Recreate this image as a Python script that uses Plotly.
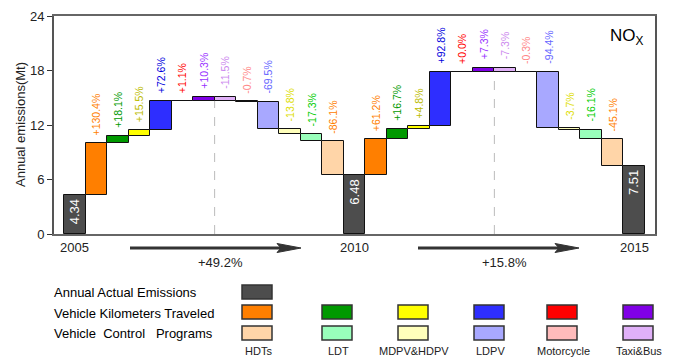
import plotly.graph_objects as go

# ---------------- data ----------------
categories = ["HDTs", "LDT", "MDPV&HDPV", "LDPV", "Motorcycle", "Taxi&Bus"]
years = ["2005", "2010", "2015"]
actual = [4.34, 6.48, 7.51]
# percentage contributions (relative to the start-year emissions), per category
vkt_pct_0510 = [130.4, 18.1, 15.5, 72.6, 1.1, 10.3]
ctrl_pct_0510 = [-86.1, -17.3, -13.8, -69.5, -0.7, -11.5]
vkt_pct_1015 = [61.2, 16.7, 4.8, 92.8, 0.0, 7.3]
ctrl_pct_1015 = [-45.1, -16.1, -3.7, -94.4, -0.3, -7.3]
period_change = ["+49.2%", "+15.8%"]
y_ticks = [0, 6, 12, 18, 24]
legend_rows = ["Annual Actual Emissions", "Vehicle Kilometers Traveled",
               "Vehicle\u00a0 Control\u00a0\u00a0 Programs"]

# ---------------- styles ----------------
actual_color = "#4D4D4D"
vkt_colors = ["#FF7F00", "#009900", "#FFFF00", "#2E2EFF", "#FF0000", "#8000E6"]
ctrl_colors = ["#FFD5A8", "#99FFBB", "#FFFFBB", "#A8A8FF", "#FFBBBB", "#E0B0F8"]
vkt_text = ["#FF8000", "#009900", "#BBBB00", "#0000DD", "#FF0000", "#9933FF"]
ctrl_text = ["#FF8000", "#00CC00", "#DDDD00", "#6666FF", "#FF8888", "#CC88EE"]
FONT = "Liberation Sans, Arial, sans-serif"

W, H = 674, 358
L, R, T, B = 54, 19, 16, 124
PW, PH = W - L - R, H - T - B


def pxx(x):
    return (x - L) / PW


def pyy(y):
    return (T + PH - y) / PH


# ---------------- build waterfall ----------------
xs, bases, heights, colors = [], [], [], []
annotations = []
shapes = []
idx = 0


def add_actual(i_year):
    global idx
    xs.append(idx); bases.append(0); heights.append(actual[i_year]); colors.append(actual_color)
    annotations.append(dict(x=idx, y=actual[i_year], xref="x", yref="y", yshift=-17,
                            text=f"{actual[i_year]:.2f}", textangle=-90, showarrow=False,
                            font=dict(family=FONT, size=13, color="white"),
                            xanchor="center", yanchor="middle"))
    idx += 1


def add_change(level, start, pct, color, tcolor):
    global idx
    d = start * pct / 100.0
    new = level + d
    xs.append(idx); bases.append(min(level, new)); heights.append(abs(d)); colors.append(color)
    annotations.append(dict(x=idx, y=max(level, new), xref="x", yref="y", yshift=6,
                            text=f"{pct:+.1f}%", textangle=-90, showarrow=False,
                            font=dict(family=FONT, size=10.5, color=tcolor),
                            xanchor="center", yanchor="bottom"))
    idx += 1
    return new


periods = [(vkt_pct_0510, ctrl_pct_0510), (vkt_pct_1015, ctrl_pct_1015)]
divider_x = []
divider_top = []
for p, (vp, cp) in enumerate(periods):
    add_actual(p)
    start = actual[p]
    level = start
    for i in range(len(categories)):
        level = add_change(level, start, vp[i], vkt_colors[i], vkt_text[i])
    divider_x.append(idx - 0.5)
    divider_top.append(level)
    for i in reversed(range(len(categories))):
        level = add_change(level, start, cp[i], ctrl_colors[i], ctrl_text[i])
add_actual(2)

fig = go.Figure(go.Bar(
    x=xs, y=heights, base=bases, width=1.0,
    marker=dict(color=colors, line=dict(color="#111111", width=1)),
    hoverinfo="skip", showlegend=False))

# dashed dividers
for dx, dt in zip(divider_x, divider_top):
    shapes.append(dict(type="line", xref="x", yref="y", x0=dx, x1=dx, y0=0, y1=dt,
                       line=dict(color="#BBBBBB", width=1, dash="dash"), layer="below"))

# year labels under actual bars
for i_year, xi in enumerate([0, 13, 26]):
    annotations.append(dict(x=xi, y=pyy(247), xref="x", yref="paper", text=years[i_year],
                            showarrow=False, font=dict(family=FONT, size=13, color="#222222"),
                            xanchor="center", yanchor="middle"))

# arrows with period change
arrow_specs = [(130, 301, 221), (418, 579, 504)]
for k, (x0, x1, xc) in enumerate(arrow_specs):
    shapes.append(dict(type="line", xref="paper", yref="paper", x0=pxx(x0), x1=pxx(x1 - 18),
                       y0=pyy(248), y1=pyy(248), line=dict(color="#333333", width=3)))
    path = (f"M {pxx(x1-24)},{pyy(243.5)} L {pxx(x1)},{pyy(248)} "
            f"L {pxx(x1-24)},{pyy(252.5)} L {pxx(x1-20)},{pyy(248)} Z")
    shapes.append(dict(type="path", xref="paper", yref="paper", path=path,
                       fillcolor="#333333", line=dict(color="#333333", width=1)))
    annotations.append(dict(x=pxx(xc), y=pyy(262), xref="paper", yref="paper",
                            text=period_change[k], showarrow=False,
                            font=dict(family=FONT, size=13, color="#222222"),
                            xanchor="center", yanchor="middle"))

# y-axis title
annotations.append(dict(x=pxx(20), y=pyy(125), xref="paper", yref="paper",
                        text="Annual emissions(Mt)", textangle=-90, showarrow=False,
                        font=dict(family=FONT, size=13, color="#222222"),
                        xanchor="center", yanchor="middle"))

# NOx label
annotations.append(dict(x=pxx(608), y=pyy(37), xref="paper", yref="paper",
                        text="NO<sub>X</sub>", showarrow=False,
                        font=dict(family=FONT, size=17, color="black"),
                        xanchor="left", yanchor="middle"))

# ---------------- custom legend ----------------
row_y = [(285, 299), (305, 319), (326, 340)]
row_text_y = [292, 313, 333]
col_left = [242, 322, 398, 474, 547, 623]
box_w = 30
for r, txt in enumerate(legend_rows):
    annotations.append(dict(x=pxx(52), y=pyy(row_text_y[r]), xref="paper", yref="paper",
                            text=txt, showarrow=False,
                            font=dict(family=FONT, size=13, color="black"),
                            xanchor="left", yanchor="middle"))


def legend_box(xl, yt, yb, color):
    shapes.append(dict(type="rect", xref="paper", yref="paper",
                       x0=pxx(xl), x1=pxx(xl + box_w), y0=pyy(yb), y1=pyy(yt),
                       fillcolor=color, line=dict(color="#333333", width=1.5)))


legend_box(col_left[0], row_y[0][0], row_y[0][1], actual_color)
for c in range(len(categories)):
    legend_box(col_left[c], row_y[1][0], row_y[1][1], vkt_colors[c])
    legend_box(col_left[c], row_y[2][0], row_y[2][1], ctrl_colors[c])
    annotations.append(dict(x=pxx(col_left[c] + box_w / 2 + 1), y=pyy(351), xref="paper",
                            yref="paper", text=categories[c], showarrow=False,
                            font=dict(family=FONT, size=11, color="#222222"),
                            xanchor="center", yanchor="middle"))

n = len(xs)
left_pad = (64 - L) / (581 / n)
right_pad = (W - R - 645) / (581 / n)

fig.update_layout(
    width=W, height=H,
    margin=dict(l=L, r=R, t=T, b=B, autoexpand=False),
    paper_bgcolor="white", plot_bgcolor="white",
    bargap=0,
    showlegend=False,
    xaxis=dict(range=[-0.5 - left_pad, n - 0.5 + right_pad], showticklabels=False,
               ticks="", showgrid=False, zeroline=False, showline=True,
               linecolor="#666666", linewidth=2, mirror=True, fixedrange=True),
    yaxis=dict(range=[0, 24], tickvals=y_ticks, ticks="outside", ticklen=5,
               tickcolor="#333333", tickwidth=1, showgrid=False, zeroline=False,
               showline=True, linecolor="#555555", linewidth=2, mirror=True,
               tickfont=dict(family=FONT, size=13, color="#222222"), fixedrange=True),
    shapes=shapes,
    annotations=annotations,
)

fig.write_html("out.html", config={"displayModeBar": False},
               post_script="document.body.style.margin='0px';document.body.style.overflow='hidden';")
